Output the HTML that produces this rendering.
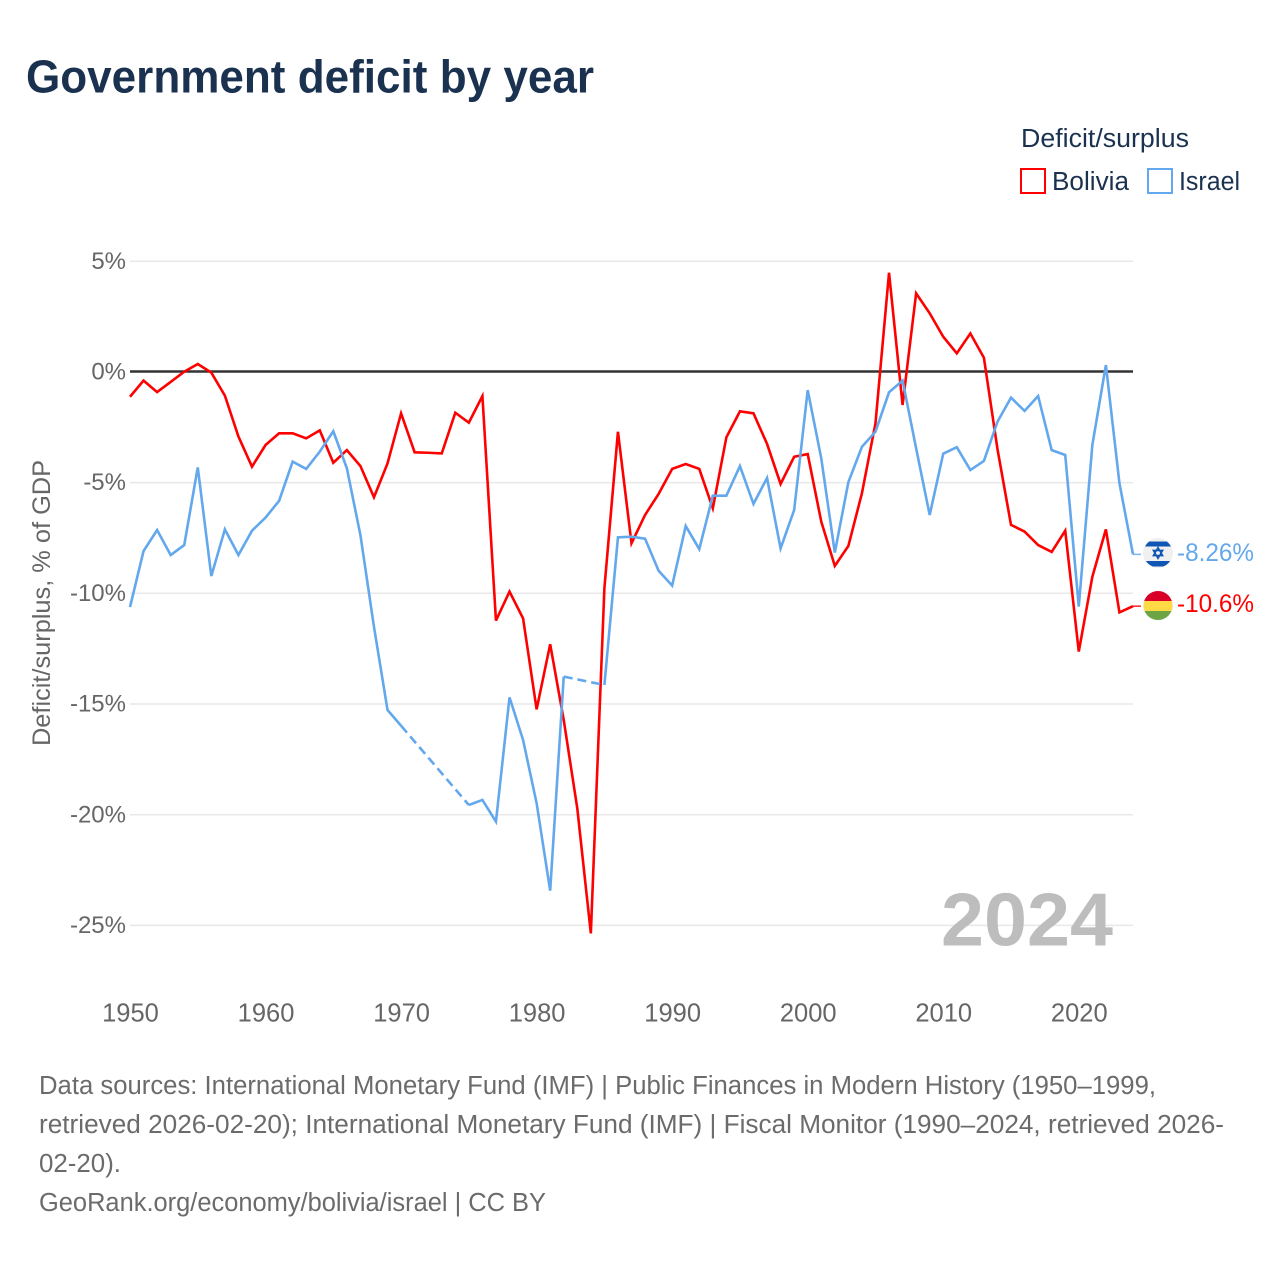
<!DOCTYPE html>
<html lang="en">
<head>
<meta charset="utf-8">
<title>Government deficit by year</title>
<style>
html,body{margin:0;padding:0;background:#fff;}
svg{display:block;font-family:"Liberation Sans",sans-serif;}
</style>
</head>
<body>
<svg id="chart" xmlns="http://www.w3.org/2000/svg" width="1280" height="1280" viewBox="0 0 1280 1280">
  <defs>
    <clipPath id="clip-il"><circle cx="1158" cy="553" r="14.5"/></clipPath>
    <clipPath id="clip-bo"><circle cx="1158" cy="605.5" r="14.5"/></clipPath>
  </defs>
  <rect width="1280" height="1280" fill="#fff"/>
  <text x="26" y="92.5" font-size="46" font-weight="700" fill="#1a3250" textLength="568" lengthAdjust="spacingAndGlyphs">Government deficit by year</text>

  <g>
    <text x="1021" y="147" font-size="25.5" fill="#1a3250" textLength="168" lengthAdjust="spacingAndGlyphs">Deficit/surplus</text>
    <g>
      <rect x="1021" y="169" width="24" height="24" fill="none" stroke="#ff0000" stroke-width="2"/>
      <text x="1052" y="190" font-size="25.5" fill="#1a3250" textLength="77" lengthAdjust="spacingAndGlyphs">Bolivia</text>
    </g>
    <g>
      <rect x="1148" y="169" width="24" height="24" fill="none" stroke="#63a8ec" stroke-width="2"/>
      <text x="1179" y="190" font-size="25.5" fill="#1a3250" textLength="61" lengthAdjust="spacingAndGlyphs">Israel</text>
    </g>
  </g>

  <g id="grid"></g>
  <g id="ylabels"></g>
  <g id="xlabels"></g>
  <text transform="translate(50,603) rotate(-90)" text-anchor="middle" font-size="25" fill="#666" textLength="286" lengthAdjust="spacingAndGlyphs">Deficit/surplus, % of GDP</text>

  <text x="941" y="945.5" font-size="75" font-weight="700" fill="#bdbdbd" textLength="172" lengthAdjust="spacingAndGlyphs">2024</text>

  <g id="series"></g>

  <g>
    <circle cx="1158" cy="553" r="15" fill="#f0f0f0"/>
    <g clip-path="url(#clip-il)">
      <rect x="1140" y="541.5" width="36" height="5" fill="#0f56b5"/>
      <rect x="1140" y="561" width="36" height="5.5" fill="#0f56b5"/>
    </g>
    <path d="M1158 547.6l4.6 8h-9.2zM1158 558.4l-4.6-8h9.2z" fill="none" stroke="#0f56b5" stroke-width="1.6"/>
  </g>
  <g>
    <circle cx="1158" cy="605.5" r="15" fill="#f0f0f0"/>
    <g clip-path="url(#clip-bo)">
      <rect x="1140" y="590" width="36" height="11" fill="#d80027"/>
      <rect x="1140" y="601" width="36" height="10" fill="#ffda44"/>
      <rect x="1140" y="611" width="36" height="11" fill="#6da544"/>
    </g>
  </g>
  <text x="1177" y="561" font-size="25" fill="#63a8ec" textLength="77" lengthAdjust="spacingAndGlyphs">-8.26%</text>
  <text x="1177" y="612" font-size="25" fill="#ff0000" textLength="77" lengthAdjust="spacingAndGlyphs">-10.6%</text>

  <g font-size="25.5" fill="#6b6b6b">
    <text x="39" y="1094" textLength="1117" lengthAdjust="spacingAndGlyphs">Data sources: International Monetary Fund (IMF) | Public Finances in Modern History (1950–1999,</text>
    <text x="39" y="1133" textLength="1185" lengthAdjust="spacingAndGlyphs">retrieved 2026-02-20); International Monetary Fund (IMF) | Fiscal Monitor (1990–2024, retrieved 2026-</text>
    <text x="39" y="1172" textLength="82" lengthAdjust="spacingAndGlyphs">02-20).</text>
    <text x="39" y="1211" textLength="507" lengthAdjust="spacingAndGlyphs">GeoRank.org/economy/bolivia/israel | CC BY</text>
  </g>
</svg>
<script>
const startYear = 1950;
const endYear = 2024;
const yTicks = [5, 0, -5, -10, -15, -20, -25];
const xTicks = [1950, 1960, 1970, 1980, 1990, 2000, 2010, 2020];
const bolivia = [
  -1.14,-0.41,-0.93,-0.47,-0.01,0.34,-0.05,-1.09,-2.94,-4.30,
  -3.32,-2.79,-2.79,-3.02,-2.66,-4.12,-3.55,-4.27,-5.68,-4.15,
  -1.89,-3.65,-3.67,-3.70,-1.86,-2.31,-1.11,-11.25,-9.94,-11.15,
  -15.26,-12.32,-15.74,-19.73,-25.38,-9.79,-2.72,-7.76,-6.48,-5.53,
  -4.40,-4.18,-4.40,-6.18,-2.97,-1.80,-1.89,-3.27,-5.08,-3.85,
  -3.73,-6.78,-8.78,-7.88,-5.50,-2.34,4.46,-1.51,3.53,2.63,
  1.57,0.82,1.72,0.62,-3.50,-6.93,-7.23,-7.84,-8.15,-7.19,
  -12.65,-9.27,-7.13,-10.88,-10.60
];
const israel = [
  -10.64,-8.11,-7.16,-8.29,-7.84,-4.33,-9.24,-7.13,-8.29,-7.19,
  -6.60,-5.84,-4.07,-4.40,-3.62,-2.70,-4.37,-7.39,-11.53,-15.29,
  -16.00,null,null,null,null,-19.58,-19.35,-20.33,-14.72,-16.64,
  -19.50,-23.45,-13.78,null,null,-14.16,-7.49,-7.46,-7.55,-9.00,
  -9.67,-6.98,-8.02,-5.61,-5.61,-4.27,-5.98,-4.81,-7.99,-6.26,
  -0.84,-3.92,-8.18,-5.00,-3.40,-2.72,-0.94,-0.41,-3.47,-6.48,
  -3.71,-3.42,-4.45,-4.04,-2.27,-1.18,-1.78,-1.11,-3.55,-3.77,
  -10.62,-3.32,0.29,-5.05,-8.26
];

const NS = 'http://www.w3.org/2000/svg';
const plotLeft = 130, plotRight = 1133;
const zeroY = 371.5, pxPerPoint = 22.14;
function xScale(year) {
  return plotLeft + (year - startYear) * (plotRight - plotLeft) / (endYear - startYear);
}
function yScale(value) {
  return zeroY - value * pxPerPoint;
}
function make(tag, parent) {
  const el = document.createElementNS(NS, tag);
  parent.appendChild(el);
  return el;
}

const grid = document.getElementById('grid');
const ylabels = document.getElementById('ylabels');
const xlabels = document.getElementById('xlabels');
const seriesGroup = document.getElementById('series');

yTicks.forEach(function (t) {
  if (t !== 0) {
    const line = make('line', grid);
    
    
    line.setAttribute('x1', plotLeft);
    line.setAttribute('x2', plotRight);
    line.setAttribute('y1', yScale(t) + 0.4);
    line.setAttribute('y2', yScale(t) + 0.4);
    line.setAttribute('stroke', '#e8e8e8');
    line.setAttribute('stroke-width', '1.5');
  }
  const label = make('text', ylabels);
  
  
  label.setAttribute('x', 126);
  label.setAttribute('y', yScale(t) + 8);
  label.setAttribute('text-anchor', 'end');
  label.setAttribute('font-size', '24');
  label.setAttribute('fill', '#666');
  label.textContent = t + '%';
});

xTicks.forEach(function (t) {
  const label = make('text', xlabels);
  
  
  label.setAttribute('x', xScale(t) + 0.5);
  label.setAttribute('y', 1021.5);
  label.setAttribute('text-anchor', 'middle');
  label.setAttribute('font-size', '25.5');
  label.setAttribute('fill', '#666');
  label.textContent = t;
});

function drawSeries(values, color, name) {
  let solid = '';
  let dashed = '';
  let prev = null;
  values.forEach(function (v, i) {
    if (v === null) return;
    const x = xScale(startYear + i).toFixed(2);
    const y = yScale(v).toFixed(2);
    if (prev !== null) {
      const joined = i - prev.i === 1;
      if (joined) {
        solid += (prev.drawn ? '' : 'M' + prev.x + ' ' + prev.y) + 'L' + x + ' ' + y;
      } else {
        dashed += 'M' + prev.x + ' ' + prev.y + 'L' + x + ' ' + y;
      }
      prev = { x: x, y: y, i: i, drawn: joined };
    } else {
      prev = { x: x, y: y, i: i, drawn: false };
    }
  });
  const last = values[values.length - 1];

  const solidPath = make('path', seriesGroup);
  
  
  solidPath.setAttribute('d', solid);
  solidPath.setAttribute('fill', 'none');
  solidPath.setAttribute('stroke', color);
  solidPath.setAttribute('stroke-width', '2.6');
  solidPath.setAttribute('stroke-linejoin', 'miter');

  if (dashed) {
    const dashPath = make('path', seriesGroup);
    
    
    dashPath.setAttribute('d', dashed);
    dashPath.setAttribute('fill', 'none');
    dashPath.setAttribute('stroke', color);
    dashPath.setAttribute('stroke-width', '2.6');
    dashPath.setAttribute('stroke-dasharray', '9 5');
  }

  const connector = make('line', seriesGroup);
  
  
  connector.setAttribute('x1', xScale(endYear));
  connector.setAttribute('x2', xScale(endYear) + 8);
  connector.setAttribute('y1', yScale(last));
  connector.setAttribute('y2', yScale(last));
  connector.setAttribute('stroke', color);
  connector.setAttribute('stroke-width', '1.6');
  connector.setAttribute('opacity', '0.8');
}

const zeroLine = make('line', seriesGroup);


zeroLine.setAttribute('x1', plotLeft);
zeroLine.setAttribute('x2', plotRight);
zeroLine.setAttribute('y1', yScale(0));
zeroLine.setAttribute('y2', yScale(0));
zeroLine.setAttribute('stroke', '#333');
zeroLine.setAttribute('stroke-width', '2.5');

drawSeries(bolivia, '#ff0000', 'bolivia');
drawSeries(israel, '#63a8ec', 'israel');
</script>
</body>
</html>
